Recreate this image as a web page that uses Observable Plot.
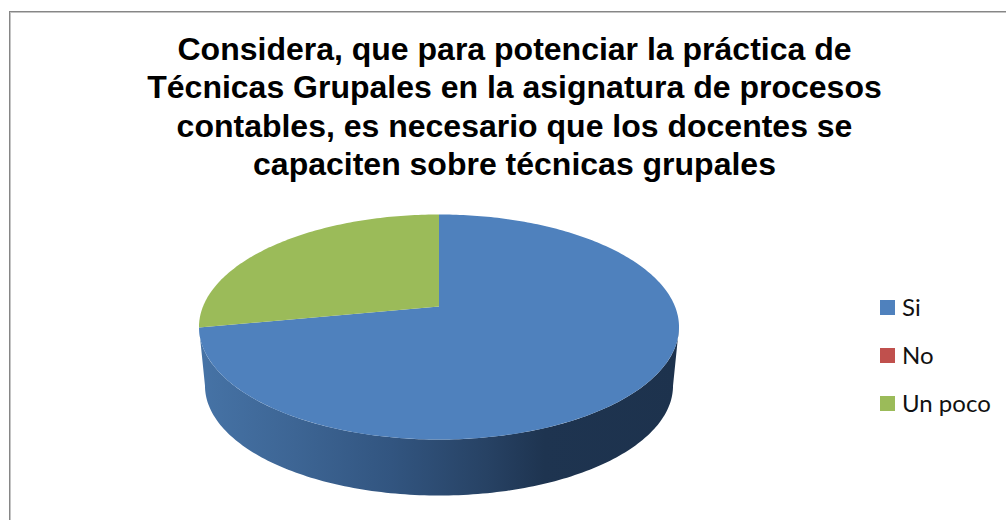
<!DOCTYPE html>
<html lang="es">
<head>
<meta charset="utf-8">
<script src="https://cdn.jsdelivr.net/npm/d3@7"></script>
<script src="https://cdn.jsdelivr.net/npm/@observablehq/plot@0.6"></script>
<style>
  html, body { margin: 0; padding: 0; background: #fff; }
  #page { position: relative; width: 1006px; height: 520px; overflow: hidden; }
  #frame { position: absolute; left: 9px; top: 11px; right: -5px; bottom: -5px; border: 1px solid #868686; box-shadow: inset 1px 1px 0 #c4c4c4; }
  #chart { position: absolute; left: 0; top: 0; }
  #title { position: absolute; left: 0; top: 30px; width: 1029px; text-align: center; font: bold 32px/38.4px "Liberation Sans", Arial, sans-serif; color: #000; }
  #legend { position: absolute; left: 880px; top: 283px; font: 24px/48px Lato, sans-serif; color: #111; }
  #legend div { display: flex; align-items: center; height: 48px; white-space: nowrap; }
  #legend i { display: inline-block; width: 15px; height: 15px; margin-right: 7px; }
</style>
</head>
<body>
<div id="page">
  <div id="frame"></div>
  <div id="chart"></div>
  <div id="title"></div>
  <div id="legend"></div>
</div>
<script>
const titleLines = [
  "Considera, que para potenciar la práctica de",
  "Técnicas Grupales en la asignatura de procesos",
  "contables, es necesario que los docentes se",
  "capaciten sobre técnicas grupales"
];
const categories = ["Si", "No", "Un poco"];
const values = [72, 0, 28];
const colors = ["#4F81BD", "#C0504D", "#9BBB59"];

// Tilted-disc projection of a unit circle
const persp = 0.1822, wallScale = 0.975, wallDrop = 0.545;
const project = (deg, s = 1, drop = 0) => {
  const t = deg * Math.PI / 180, u = Math.sin(t), v = Math.cos(t), w = 1 + persp * v;
  return {x: s * u / w, y: s * v / w - drop};
};
const range = (a, b) => {
  const out = [], n = Math.max(1, Math.ceil(Math.abs(b - a)));
  for (let i = 0; i <= n; i++) out.push(a + (b - a) * i / n);
  return out;
};

const total = d3.sum(values);
let start = 0;
const slices = [];
categories.forEach((category, i) => {
  const end = start + values[i] / total * 360;
  slices.push({x: 0, y: 0, category});
  for (const a of range(start, end)) slices.push({...project(a), category});
  start = end;
});

const widest = 90 + Math.asin(persp) * 180 / Math.PI;
const wall = [
  ...range(widest, 360 - widest).map(a => project(a)),
  ...range(360 - widest, widest).map(a => project(a, wallScale, wallDrop))
];

document.getElementById("title").innerHTML = titleLines.map(l => `<div>${l}</div>`).join("");
document.getElementById("legend").innerHTML = categories
  .map((c, i) => `<div><i style="background:${colors[i]}"></i>${c}</div>`).join("");

const wallGradient = () => {
  const defs = d3.create("svg:defs");
  const g = defs.append("linearGradient").attr("id", "wallShade")
    .attr("gradientUnits", "userSpaceOnUse")
    .attr("x1", 199).attr("x2", 678).attr("y1", 0).attr("y2", 0);
  [[0, "#4673A6"], [0.2, "#3D6594"], [0.4, "#325580"], [0.6, "#274264"], [0.72, "#1E3450"], [1, "#1D324D"]]
    .forEach(([o, c]) => g.append("stop").attr("offset", o).attr("stop-color", c));
  return defs.node();
};

const plot = Plot.plot({
  width: 1006,
  height: 520,
  margin: 0,
  style: {background: "transparent"},
  x: {domain: [-1, 1], range: [202.5, 674.5], axis: null},
  y: {domain: [-1, 1], range: [414.8, 197.2], axis: null},
  color: {domain: categories, range: colors},
  marks: [
    wallGradient,
    Plot.line(wall, {x: "x", y: "y", fill: "url(#wallShade)", stroke: "none"}),
    Plot.line(slices, {x: "x", y: "y", z: "category", fill: "category", stroke: "none"})
  ]
});
document.getElementById("chart").append(plot);
</script>
</body>
</html>
